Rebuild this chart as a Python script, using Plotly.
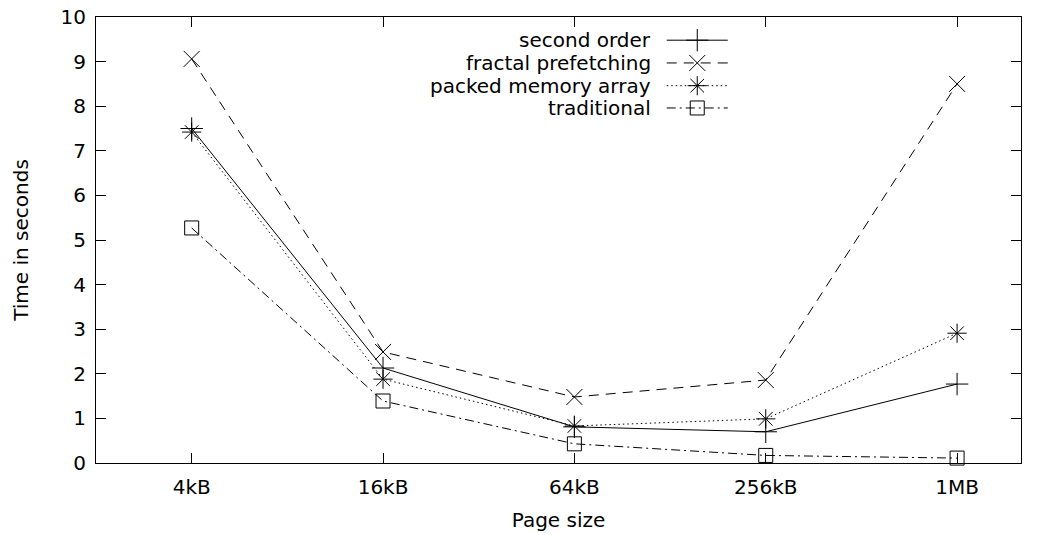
import plotly.graph_objects as go

page_sizes = ["4kB", "16kB", "64kB", "256kB", "1MB"]
second_order = [7.50, 2.13, 0.81, 0.70, 1.77]
fractal_prefetching = [9.06, 2.49, 1.48, 1.86, 8.50]
packed_memory_array = [7.42, 1.88, 0.83, 0.99, 2.91]
traditional = [5.27, 1.39, 0.43, 0.17, 0.11]
y_ticks = list(range(0, 11))

series = [
    ("second order", second_order, "solid", "cross-thin-open", 16),
    ("fractal prefetching", fractal_prefetching, "10px,7px", "x-thin-open", 16),
    ("packed memory array", packed_memory_array, "1.5px,3px", "asterisk-open", 16),
    ("traditional", traditional, "9px,4px,2px,4px", "square-open", 14),
]

FONT = "DejaVu Sans"
FS = 20
xs = list(range(len(page_sizes)))

fig = go.Figure()
for name, vals, dash, sym, msz in series:
    fig.add_trace(go.Scatter(
        x=xs, y=vals, mode="lines+markers", name=name, showlegend=False,
        line=dict(color="black", width=1, dash=dash),
        marker=dict(symbol=sym, size=msz, color="black",
                    line=dict(color="black", width=1)),
        cliponaxis=False,
    ))

# custom legend (text left, sample right) on a hidden overlay axis in plot fractions
leg_rows = [0.948, 0.897, 0.846, 0.796]
for (name, vals, dash, sym, msz), yy in zip(series, leg_rows):
    fig.add_trace(go.Scatter(
        x=[0.617, 0.683], y=[yy, yy], mode="lines", xaxis="x2", yaxis="y2",
        showlegend=False, hoverinfo="skip",
        line=dict(color="black", width=1, dash=dash)))
    fig.add_trace(go.Scatter(
        x=[0.650], y=[yy], mode="markers", xaxis="x2", yaxis="y2",
        showlegend=False, hoverinfo="skip",
        marker=dict(symbol=sym, size=msz, color="black",
                    line=dict(color="black", width=1))))
    fig.add_annotation(x=0.602, y=yy, xref="x2", yref="y2", text=name,
                       showarrow=False, xanchor="right", yanchor="middle",
                       font=dict(family=FONT, size=FS, color="black"))

fig.update_layout(
    width=1044, height=535,
    margin=dict(l=96, r=23, t=17, b=72),
    plot_bgcolor="white", paper_bgcolor="white",
    font=dict(family=FONT, size=FS, color="black"),
    showlegend=False,
    xaxis=dict(
        range=[-0.5, 4.334], tickvals=xs, ticktext=page_sizes,
        ticks="inside", ticklen=10, tickcolor="black", tickwidth=1,
        showline=True, linecolor="black", linewidth=1, mirror="ticks",
        showgrid=False, zeroline=False, ticklabelstandoff=6, automargin=False,
        tickfont=dict(family=FONT, size=FS),
        title=dict(text="Page size", standoff=14, font=dict(family=FONT, size=FS)),
    ),
    yaxis=dict(
        range=[0, 10], tickvals=y_ticks,
        ticks="inside", ticklen=10, tickcolor="black", tickwidth=1,
        showline=True, linecolor="black", linewidth=1, mirror="ticks",
        showgrid=False, zeroline=False, ticklabelstandoff=5, automargin=False,
        tickfont=dict(family=FONT, size=FS),
        title=dict(text="Time in seconds", standoff=26, font=dict(family=FONT, size=FS)),
    ),
    xaxis2=dict(range=[0, 1], overlaying="x", visible=False, fixedrange=True),
    yaxis2=dict(range=[0, 1], overlaying="y", visible=False, fixedrange=True),
)

fig.write_html("out.html")
